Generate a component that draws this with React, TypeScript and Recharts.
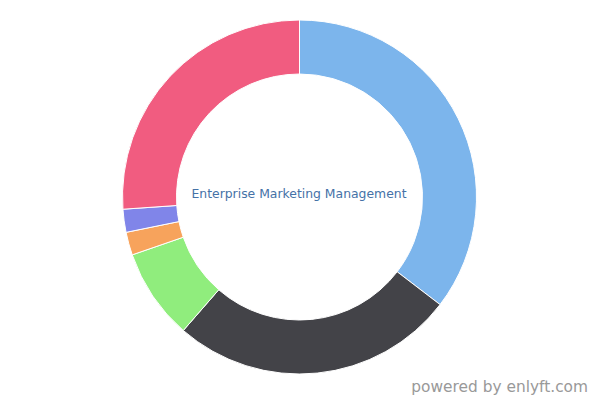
import React from "react";
import { PieChart, Pie, Cell } from "recharts";

const categories = ["Segment A", "Segment B", "Segment C", "Segment D", "Segment E", "Segment F"];
const values = [35.4, 26.0, 8.3, 2.1, 2.1, 26.1];
const colors = ["#7cb5ec", "#434348", "#90ed7d", "#f7a35c", "#8085e9", "#f15c80"];
const title = "Enterprise Marketing Management";
const credit = "powered by enlyft.com";

const data = categories.map((name, i) => ({ name, value: values[i] }));

export default function App() {
  return (
    <div style={{ position: "absolute", left: 0, top: 0, width: 600, height: 400, background: "#fff" }}>
      <PieChart width={600} height={400} margin={{ top: 0, right: 0, bottom: 0, left: 0 }}>
        <Pie
          data={data}
          dataKey="value"
          nameKey="name"
          cx={299.5}
          cy={197}
          innerRadius={123}
          outerRadius={177}
          startAngle={90}
          endAngle={-270}
          stroke="#ffffff"
          strokeWidth={1}
          isAnimationActive={false}
        >
          {data.map((d, i) => (
            <Cell key={d.name} fill={colors[i]} />
          ))}
        </Pie>
        <text
          x={299}
          y={198}
          textAnchor="middle"
          fontFamily="DejaVu Sans"
          fontSize={12.4}
          fill="#4572a7"
        >
          {title}
        </text>
        <text
          x={588}
          y={392}
          textAnchor="end"
          fontFamily="DejaVu Sans"
          fontSize={15.4}
          fill="#999999"
        >
          {credit}
        </text>
      </PieChart>
    </div>
  );
}
